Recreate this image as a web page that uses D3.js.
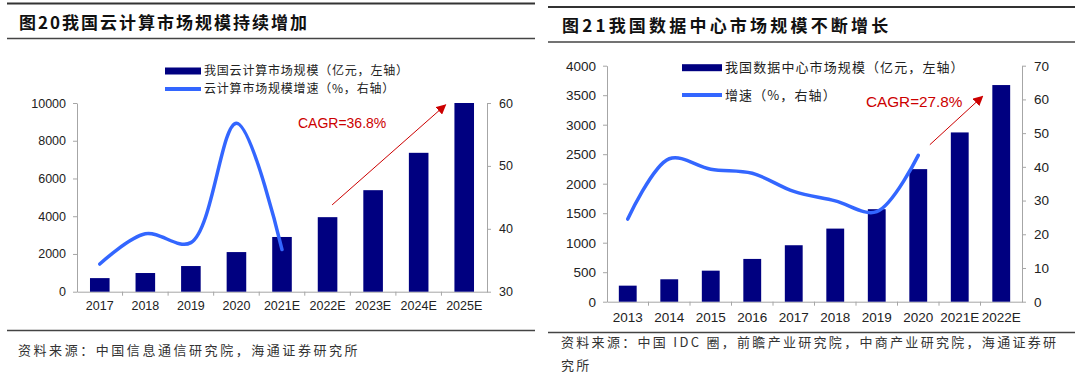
<!DOCTYPE html>
<html>
<head>
<meta charset="utf-8">
<script src="https://cdn.jsdelivr.net/npm/d3@7"></script>
<style>
  html, body { margin: 0; padding: 0; background: #fff; }
  svg { display: block; }
</style>
</head>
<body>
<div class="chart"></div>
<script>
// 图20 云计算
const cloudYears = ["2017", "2018", "2019", "2020", "2021E", "2022E", "2023E", "2024E", "2025E"]
const cloudSize = [720, 990, 1360, 2100, 2900, 3950, 5380, 7360, 10000]
const cloudGrowth = [34.4, 39.2, 37.8, 56.8, 36.7]
const cloudLeftTicks = [0, 2000, 4000, 6000, 8000, 10000]
const cloudRightTicks = [30, 40, 50, 60]

// 图21 数据中心
const dcYears = ["2013", "2014", "2015", "2016", "2017", "2018", "2019", "2020", "2021E", "2022E"]
const dcSize = [272, 380, 526, 725, 957, 1239, 1568, 2247, 2869, 3672]
const dcGrowth = [24.5, 42.4, 39.3, 38.1, 32.7, 29.9, 26.7, 43.4]
const dcLeftTicks = [0, 500, 1000, 1500, 2000, 2500, 3000, 3500, 4000]
const dcRightTicks = [0, 10, 20, 30, 40, 50, 60, 70]

const NAVY = "#000080", BLUE = "#3366ff", RED = "#cc0000", AXIS = "#a6a6a6"
const LATIN = "'Liberation Sans', Arial, sans-serif"
const CJK = "'Noto Sans CJK SC', sans-serif"

let svg = d3.select(".chart").append("svg")
    .attr("width", 1080)
    .attr("height", 373)

svg.append("defs").append("marker")
    .attr("id", "arrow")
    .attr("viewBox", "0 0 10 10")
    .attr("refX", 9).attr("refY", 5)
    .attr("markerWidth", 10).attr("markerHeight", 10)
    .attr("markerUnits", "userSpaceOnUse")
    .attr("orient", "auto")
    .append("path")
    .attr("d", "M0,0 L10,5 L0,10 Z")
    .attr("fill", RED)

function drawPanel(p) {
    let g = svg.append("g")
    // 标题和分隔线
    g.append("line").attr("x1", p.frame[0]).attr("x2", p.frame[1])
        .attr("y1", p.topLine).attr("y2", p.topLine)
        .attr("stroke", "#333").attr("stroke-width", 2)
    g.append("line").attr("x1", p.frame[0]).attr("x2", p.frame[1])
        .attr("y1", p.titleLine).attr("y2", p.titleLine)
        .attr("stroke", "#444").attr("stroke-width", 1.5)
    g.append("line").attr("x1", p.frame[0]).attr("x2", p.frame[1])
        .attr("y1", p.bottomLine).attr("y2", p.bottomLine)
        .attr("stroke", "#444").attr("stroke-width", 1.5)
    g.append("text")
        .attr("x", p.titleX).attr("y", p.titleY)
        .attr("font-family", CJK).attr("font-weight", "bold")
        .attr("font-size", p.titleSize).attr("letter-spacing", p.titleSpacing)
        .attr("fill", "#111")
        .text(p.title)
    p.source.forEach((s, i) => {
        g.append("text")
            .attr("x", p.titleX - 1).attr("y", p.sourceY + i * 23.5)
            .attr("font-family", CJK).attr("font-size", 13)
            .attr("letter-spacing", p.sourceSpacing).attr("fill", "#333")
            .text(s)
    })

    let x = d3.scaleBand().domain(p.years).range([p.left, p.right]).paddingInner(0).paddingOuter(0)
    let yL = d3.scaleLinear().domain(d3.extent(p.leftTicks)).range([p.bottom, p.top])
    let yR = d3.scaleLinear().domain(d3.extent(p.rightTicks)).range([p.bottom, p.top])
    let bw = x.bandwidth() * 0.43

    // 坐标轴
    let axL = g.append("g").attr("transform", `translate(${p.left},0)`)
        .call(d3.axisLeft(yL).tickValues(p.leftTicks).tickSize(4).tickSizeOuter(0).tickPadding(7).tickFormat(d3.format("d")))
    let axR = g.append("g").attr("transform", `translate(${p.right},0)`)
        .call(d3.axisRight(yR).tickValues(p.rightTicks).tickSize(4).tickSizeOuter(0).tickPadding(8).tickFormat(d3.format("d")))
    let axB = g.append("g").attr("transform", `translate(0,${p.bottom})`)
        .call(d3.axisBottom(x).tickSize(0).tickPadding(p.xPad))
    axB.selectAll(".tick text").attr("font-size", p.xFont)
    axB.append("g").selectAll("line")
        .data(d3.range(1, p.years.length))
        .enter().append("line")
        .attr("x1", i => p.left + i * x.step()).attr("x2", i => p.left + i * x.step())
        .attr("y1", 0).attr("y2", 4)
        .attr("stroke", AXIS)
    ;[axL, axR, axB].forEach(a => {
        a.select(".domain").attr("stroke", AXIS)
        a.selectAll(".tick line").attr("stroke", AXIS)
        a.selectAll("text").attr("font-family", LATIN).attr("fill", "#222")
    })
    axL.selectAll("text").attr("font-size", p.yFont)
    axR.selectAll("text").attr("font-size", p.yFont)

    // 柱子
    g.append("g").selectAll("rect")
        .data(p.size)
        .enter().append("rect")
        .attr("x", (d, i) => x(p.years[i]) + (x.bandwidth() - bw) / 2)
        .attr("y", d => yL(d))
        .attr("width", bw)
        .attr("height", d => yL(0) - yL(d))
        .attr("fill", NAVY)

    // 增速曲线
    let line = d3.line()
        .x((d, i) => x(p.years[i]) + x.bandwidth() / 2)
        .y(d => yR(d))
        .curve(d3.curveCatmullRom.alpha(0.5))
    g.append("path")
        .datum(p.growth)
        .attr("d", line)
        .attr("fill", "none")
        .attr("stroke", BLUE)
        .attr("stroke-width", 3.5)
        .attr("stroke-linecap", "round")

    // CAGR 注释
    let bx = b => p.left + b * x.step()
    g.append("line")
        .attr("x1", bx(p.arrow[0][0])).attr("y1", yL(p.arrow[0][1]))
        .attr("x2", bx(p.arrow[1][0])).attr("y2", yL(p.arrow[1][1]))
        .attr("stroke", RED).attr("stroke-width", 1)
        .attr("marker-end", "url(#arrow)")
    g.append("text")
        .attr("x", bx(p.cagrAt[0])).attr("y", yL(p.cagrAt[1]))
        .attr("font-family", LATIN).attr("font-size", p.cagrSize)
        .attr("fill", RED)
        .text(p.cagr)

    // 图例
    g.append("rect")
        .attr("x", p.legendX).attr("y", p.legendY[0] - 3.5)
        .attr("width", p.legendW).attr("height", 7)
        .attr("fill", NAVY)
    g.append("line")
        .attr("x1", p.legendX).attr("x2", p.legendX + p.legendW)
        .attr("y1", p.legendY[1]).attr("y2", p.legendY[1])
        .attr("stroke", BLUE).attr("stroke-width", 4)
    p.legend.forEach((t, i) => {
        g.append("text")
            .attr("x", p.legendX + p.legendW + 3).attr("y", p.legendY[i])
            .attr("dy", "0.35em")
            .attr("font-family", CJK).attr("font-size", p.legendFont)
            .attr("letter-spacing", p.legendSpacing).attr("fill", "#222")
            .text(t)
    })
}

drawPanel({
    years: cloudYears, size: cloudSize, growth: cloudGrowth,
    leftTicks: cloudLeftTicks, rightTicks: cloudRightTicks,
    frame: [7, 535], topLine: 3.5, titleLine: 38.5, bottomLine: 330.5,
    title: "图20我国云计算市场规模持续增加", titleX: 19, titleY: 29, titleSize: 17, titleSpacing: 2,
    source: ["资料来源：中国信息通信研究院，海通证券研究所"], sourceY: 355, sourceSpacing: 2.55,
    left: 77, right: 487, top: 103, bottom: 291.7,
    xFont: 12.5, yFont: 12.5, xPad: 9,
    legend: ["我国云计算市场规模（亿元，左轴）", "云计算市场规模增速（%，右轴）"],
    legendX: 165, legendY: [71, 89], legendW: 36, legendFont: 12, legendSpacing: 0.8,
    cagr: "CAGR=36.8%", cagrAt: [4.85, 8680], cagrSize: 14,
    arrow: [[5.6, 4600], [8.09, 9900]]
})

drawPanel({
    years: dcYears, size: dcSize, growth: dcGrowth,
    leftTicks: dcLeftTicks, rightTicks: dcRightTicks,
    frame: [548, 1075], topLine: 7, titleLine: 42, bottomLine: 332.5,
    title: "图21我国数据中心市场规模不断增长", titleX: 562, titleY: 31.5, titleSize: 17, titleSpacing: 3.2,
    source: ["资料来源：中国 IDC 圈，前瞻产业研究院，中商产业研究院，海通证券研", "究所"], sourceY: 346.5, sourceSpacing: 2.3,
    left: 607, right: 1022, top: 65.7, bottom: 301.7,
    xFont: 13.5, yFont: 13.5, xPad: 11,
    legend: ["我国数据中心市场规模（亿元，左轴）", "增速（%，右轴）"],
    legendX: 682, legendY: [67.7, 95], legendW: 40, legendFont: 13, legendSpacing: 1.1,
    cagr: "CAGR=27.8%", cagrAt: [6.24, 3306], cagrSize: 15.3,
    arrow: [[7.78, 2661], [9.05, 3481]]
})
</script>
</body>
</html>
